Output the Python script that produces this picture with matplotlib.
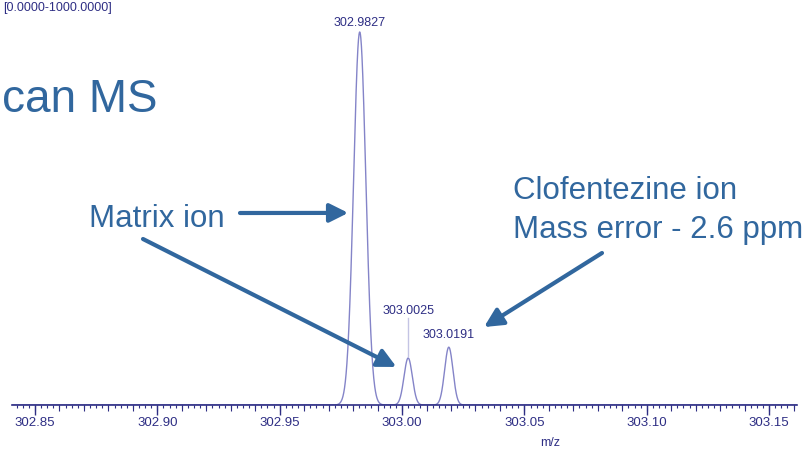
import matplotlib
matplotlib.use("Agg")
import matplotlib.pyplot as plt
from matplotlib.ticker import MultipleLocator, FixedLocator
import numpy as np

plt.rcParams['font.family'] = ['Liberation Sans', 'DejaVu Sans']

# centroid peaks (m/z, relative intensity %, peak sigma in m/z)
peak_mz = [302.9827, 303.0025, 303.0191]
peak_int = [100.0, 12.6, 15.5]
peak_sigma = [0.0025, 0.0017, 0.0017]
peak_labels = ["302.9827", "303.0025", "303.0191"]

xlim = (302.8406, 303.1614)
major_ticks = [302.85, 302.90, 302.95, 303.00, 303.05, 303.10, 303.15]
tick_labels = ["302.85", "302.90", "302.95", "303.00", "303.05", "303.10", "303.15"]

W, H = 807, 454
navy = "#2e2e84"
trace = "#8484c8"
blue = "#31679e"

fig = plt.figure(figsize=(W / 100, H / 100), dpi=100)
ax = fig.add_axes([12 / W, 49 / H, 785 / W, 405 / H])

# profile trace built from the centroid list
mz = np.linspace(xlim[0], xlim[1], 4000)
prof = np.zeros_like(mz)
for m, h, s in zip(peak_mz, peak_int, peak_sigma):
    prof += h * np.exp(-0.5 * ((mz - m) / s) ** 2)
ax.plot(mz, prof, color=trace, lw=1.0)

ax.set_xlim(*xlim)
ax.set_ylim(0, 100 * 405 / 373)
for side in ["left", "right", "top"]:
    ax.spines[side].set_visible(False)
ax.spines["bottom"].set_color(navy)
ax.spines["bottom"].set_linewidth(1.2)
ax.set_yticks([])

ax.xaxis.set_major_locator(FixedLocator(major_ticks))
ax.set_xticklabels(tick_labels)
ax.xaxis.set_minor_locator(MultipleLocator(0.0025))
ax.tick_params(axis="x", which="major", length=7, width=1, color=navy,
               labelsize=9.5, labelcolor=navy, pad=2)
ax.tick_params(axis="x", which="minor", length=2.5, width=0.8, color=navy)

# medium ticks every 0.01
sec = ax.secondary_xaxis("bottom")
sec.set_xticks(np.arange(302.85, 303.16, 0.01))
sec.set_xticklabels([])
sec.spines["bottom"].set_visible(False)
sec.tick_params(length=4.5, width=0.8, color=navy)

# peak labels
ax.text(peak_mz[0], 102.5, peak_labels[0], ha="center", va="center",
        fontsize=9, color=navy)
ax.text(peak_mz[1], 25.2, peak_labels[1], ha="center", va="center",
        fontsize=9, color=navy)
ax.plot([peak_mz[1], peak_mz[1]], [13.2, 23.3], color="#c4c4e4", lw=1)
ax.text(peak_mz[2], 18.8, peak_labels[2], ha="center", va="center",
        fontsize=9, color=navy)

fig.text(550 / W, 1 - 443 / H, "m/z", ha="center", va="center",
         fontsize=9, color=navy)
fig.text(112 / W, 1 - 8 / H, "[0.0000-1000.0000]", ha="right", va="center",
         fontsize=9, color=navy)

# slide overlay text
fig.text(2 / W, 1 - 112 / H, "can MS", ha="left", va="baseline",
         fontsize=33, color=blue)
fig.text(89 / W, 1 - 227 / H, "Matrix ion", ha="left", va="baseline",
         fontsize=22.5, color=blue)
fig.text(513 / W, 1 - 199 / H, "Clofentezine ion", ha="left", va="baseline",
         fontsize=22.5, color=blue)
fig.text(513 / W, 1 - 238 / H, "Mass error - 2.6 ppm", ha="left",
         va="baseline", fontsize=22.5, color=blue)

arrow = dict(arrowstyle="-|>", color=blue, lw=3, mutation_scale=28,
             shrinkA=0, shrinkB=0)
ax.annotate("", xy=(302.9780, 51.5), xycoords="data",
            xytext=(240, H - 213), textcoords="figure pixels", arrowprops=arrow)
ax.annotate("", xy=(302.9977, 10.2), xycoords="data",
            xytext=(143, H - 239), textcoords="figure pixels", arrowprops=arrow)
ax.annotate("", xy=(303.0335, 20.9), xycoords="data",
            xytext=(602, H - 253), textcoords="figure pixels", arrowprops=arrow)

fig.savefig("out.png", dpi=100)
